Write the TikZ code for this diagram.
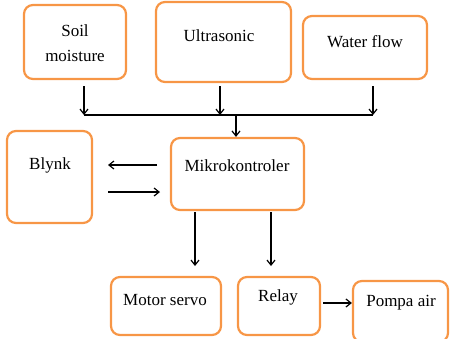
\documentclass[tikz,border=0pt]{standalone}
\usepackage{fontspec}
\setmainfont{Liberation Serif}
\usetikzlibrary{arrows.meta}
\definecolor{boxorange}{HTML}{F79646}
\begin{document}
\begin{tikzpicture}[x=1pt,y=-1pt,
  box/.style={draw=boxorange, line width=2.2pt, rounded corners=9pt, inner sep=0pt},
  lbl/.style={font=\fontsize{17}{25}\selectfont, inner sep=0pt, align=center},
  arr/.style={line width=1.2pt, -{Straight Barb[length=5pt,width=8pt]}},
  ln/.style={line width=1.2pt}]
\useasboundingbox (0,0) rectangle (450,338);
% boxes
\node[box, minimum width=102pt, minimum height=74pt] (soil) at (75,42) {};
\node[box, minimum width=135pt, minimum height=80pt] (ultra) at (223.5,42) {};
\node[box, minimum width=124pt, minimum height=63pt] (water) at (365,47.5) {};
\node[box, minimum width=85pt, minimum height=92pt] (blynk) at (49.5,177) {};
\node[box, minimum width=133pt, minimum height=72pt] (mikro) at (237.5,174) {};
\node[box, minimum width=110pt, minimum height=58pt] (motor) at (166,306) {};
\node[box, minimum width=82pt, minimum height=58pt] (relay) at (279,306) {};
\node[box, minimum width=95pt, minimum height=61pt] (pompa) at (400.5,311.5) {};
% labels
\node[lbl] (soilt) at (75,43) {Soil\\moisture};
\node[lbl] (ultrat) at (219,36) {Ultrasonic};
\node[lbl] (watert) at (365,42) {Water flow};
\node[lbl] (blynkt) at (50,165) {Blynk};
\node[lbl] (mikrot) at (237,166) {Mikrokontroler};
\node[lbl] (motort) at (165,300) {Motor servo};
\node[lbl] (relayt) at (278,297) {Relay};
\node[lbl] (pompat) at (401,303) {Pompa air};
% bus
\coordinate (s1) at (84,86);
\coordinate (s2) at (220,86);
\coordinate (s3) at (373,86);
\coordinate (b1) at (84,115);
\coordinate (b2) at (220,115);
\coordinate (b3) at (373,115);
\coordinate (bm) at (236,115);
\draw[arr] (s1) -- (b1);
\draw[arr] (s2) -- (b2);
\draw[arr] (s3) -- (b3);
\draw[ln] (b1) -- (b3);
\draw[arr] (bm) -- (mikro.north -| bm);
% blynk arrows
\coordinate (l1) at (157,165);
\coordinate (l2) at (108,165);
\coordinate (r1) at (108,192);
\coordinate (r2) at (160,192);
\draw[arr] (l1) -- (l2);
\draw[arr] (r1) -- (r2);
% down arrows
\coordinate (d1) at (195,212);
\coordinate (d2) at (195,266);
\coordinate (d3) at (271,212);
\coordinate (d4) at (271,266);
\draw[arr] (d1) -- (d2);
\draw[arr] (d3) -- (d4);
% relay to pompa
\coordinate (p1) at (323,303);
\draw[arr] (p1) -- (p1 -| pompa.west);
\end{tikzpicture}
\end{document}
